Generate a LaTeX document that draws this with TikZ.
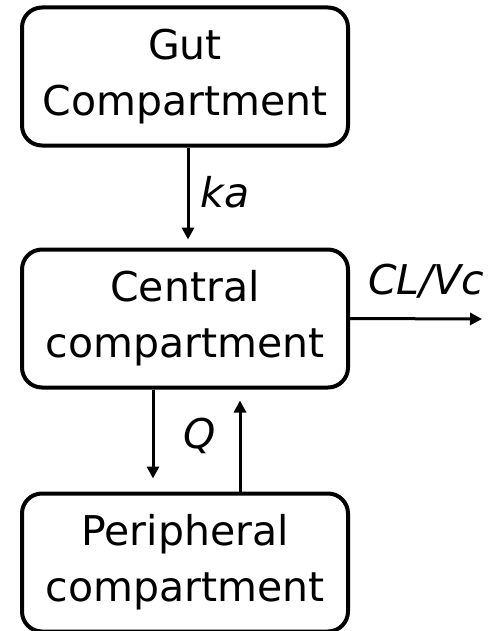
\documentclass[tikz,border=0pt]{standalone}
\usepackage{fontspec}
\setmainfont{DejaVu Sans}
\usetikzlibrary{arrows.meta,calc}

\tikzset{
  comp/.style={draw, line width=2pt, rounded corners=10pt, align=center,
    minimum width=163pt, minimum height=69pt, inner sep=0pt,
    font=\fontsize{20.5}{28}\selectfont},
  flow/.style={line width=1.5pt, -{Triangle[length=6pt,width=6pt]}},
  rate/.style={font=\fontsize{20.5}{24}\selectfont\itshape, inner sep=0pt}
}

\begin{document}
\begin{tikzpicture}[x=0.5pt, y=-0.5pt]
  \useasboundingbox (0,0) rectangle (502,631);
  % compartments
  \node[comp] (gut) at (185,76.5) {Gut\\Compartment};
  \node[comp] (central) at (185,318.5) {Central\\compartment};
  \node[comp] (periph) at (185,562.5) {Peripheral\\compartment};
  \coordinate (out) at (482,319);
  % transfers
  \draw[flow, shorten >=4pt] ($(gut.south)+(3,0)$) -- ($(central.north)+(3,0)$);
  \node[rate, anchor=west] (ka) at (200,192) {ka};
  \draw[flow] (central.east) -- (out);
  \node[rate] (clvc) at (426,281) {CL/Vc};
  \draw[flow, shorten >=6.5pt] ($(central.south)+(-32,0)$) -- ($(periph.north)+(-32,0)$);
  \draw[flow, shorten >=5.5pt] ($(periph.north)+(55,0)$) -- ($(central.south)+(55,0)$);
  \node[rate] (q) at (200,436) {Q};
\end{tikzpicture}
\end{document}
